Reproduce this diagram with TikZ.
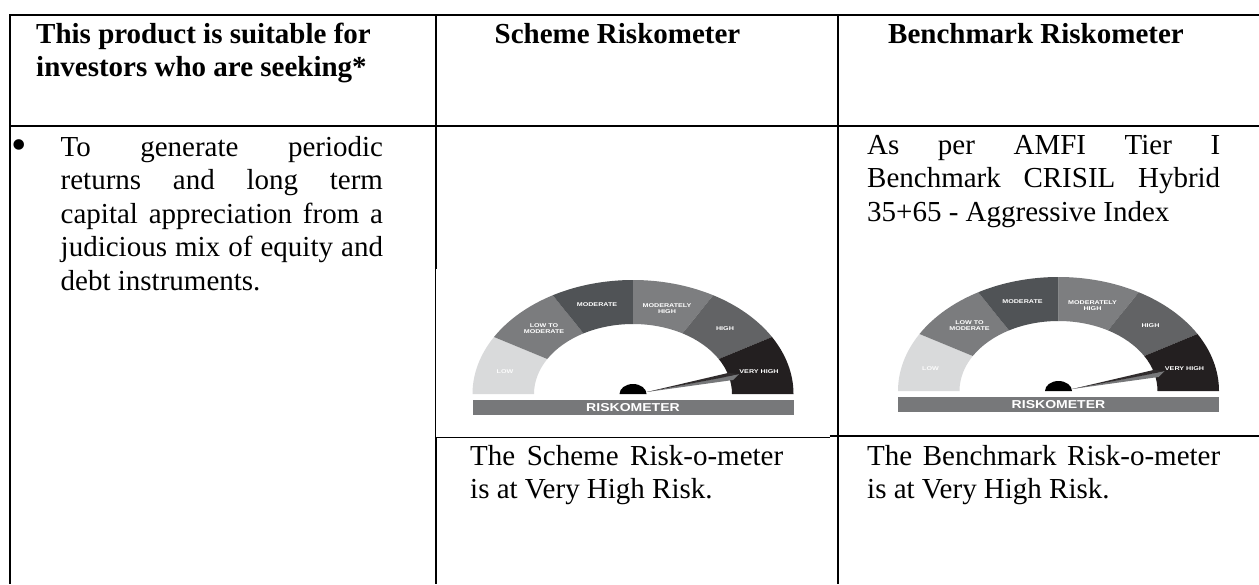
\documentclass[tikz,border=0pt]{standalone}
\usepackage{graphicx}
\usepackage{fontspec}
\setmainfont{Liberation Serif}
\newfontfamily\gaugefont{Liberation Sans}
\definecolor{gLow}{HTML}{D9DADB}
\definecolor{gLowMod}{HTML}{7B7C7E}
\definecolor{gMod}{HTML}{505356}
\definecolor{gModHigh}{HTML}{7D7E80}
\definecolor{gHigh}{HTML}{626365}
\definecolor{gVery}{HTML}{231F20}
\definecolor{gBar}{HTML}{77787A}
\hbadness=10000
\tikzset{
  rule/.style={line width=1.8pt,black},
  thinrule/.style={line width=1.2pt,black},
  cell/.style={anchor=north west,inner sep=0pt,align=justify,font=\fontsize{29}{33.5}\selectfont},
  head/.style={anchor=north west,inner sep=0pt,align=left,font=\bfseries\fontsize{29}{33.5}\selectfont},
  gl/.style={inner sep=0pt,align=center,font=\gaugefont\bfseries\fontsize{5.5}{7.5}\selectfont,text=white},
}
\newcommand{\tp}{\rule{0pt}{24pt}}
\newcommand{\gtext}[1]{\scalebox{1.3}[1]{\begin{tabular}{@{}c@{}}#1\end{tabular}}}
\newcommand{\gaugeseg}[3]{%
  \fill[#3] ({\gx+160.5*cos(#1)},{\gy-114*sin(#1)}) arc[start angle=-#1,end angle=-#2,x radius=160.5,y radius=114]
    -- ({\gx+99*cos(#2)},{\gy-70*sin(#2)}) arc[start angle=-#2,end angle=-#1,x radius=99,y radius=70] -- cycle;
}
\newcommand{\gauge}[3]{% cx, cy, prefix
  \def\gx{#1}\def\gy{#2}
  \gaugeseg{180}{150}{gLow}
  \gaugeseg{150}{120}{gLowMod}
  \gaugeseg{120}{90}{gMod}
  \gaugeseg{90}{60}{gModHigh}
  \gaugeseg{60}{30}{gHigh}
  \gaugeseg{30}{0}{gVery}
  \node[gl,text=white!92!gLow] (#3low) at (#1-128,#2-22) {\gtext{LOW}};
  \node[gl] (#3lm) at (#1-89,#2-65) {\gtext{LOW TO\\[-2pt]MODERATE}};
  \node[gl] (#3mod) at (#1-36,#2-89) {\gtext{MODERATE}};
  \node[gl] (#3mh) at (#1+34,#2-85) {\gtext{MODERATELY\\[-2pt]HIGH}};
  \node[gl] (#3h) at (#1+92,#2-65) {\gtext{HIGH}};
  \node[gl] (#3vh) at (#1+126,#2-22) {\gtext{VERY HIGH}};
  \fill[black] (#1-13.5,#2) arc[start angle=-180,end angle=0,x radius=13.5,y radius=10] -- cycle;
  \fill[gBar] (#1+13.7,#2-2) -- (#1+106,#2-20) -- (#1+100,#2-14) -- cycle;
  \fill[gVery!85!gBar] (#1+13.7,#2-2) -- (#1+95,#2-21) -- (#1+106,#2-20) -- (#1+90,#2-16.5) -- cycle;
  \fill[gBar] (#1-160.5,#2+6) rectangle (#1+160.5,#2+20.7);
  \node[inner sep=0pt,font=\gaugefont\bfseries\fontsize{11.5}{12}\selectfont,text=white] (#3bar) at (#1,#2+13.3) {\scalebox{1.22}[1]{RISKOMETER}};
}
\begin{document}
\begin{tikzpicture}[x=1pt,y=-1pt]
\useasboundingbox (0,0) rectangle (1259,584);
\fill[white] (0,0) rectangle (1259,584);
% gauges
\gauge{633}{394}{a}
\gauge{1058.5}{391}{b}
% grid
\draw[rule] (10,15) -- (1259,15);
\draw[rule] (10,126) -- (1259,126);
\draw[thinrule] (436,437.3) -- (829.5,437.3);
\draw[rule] (829.5,436) -- (1259,436);
\draw[rule] (10,14.1) -- (10,584);
\draw[rule] (436,14.1) -- (436,269);
\draw[thinrule] (435.6,269) -- (435.6,437);
\draw[rule] (436,437) -- (436,584);
\draw[rule] (837.6,14.1) -- (837.6,584);
% text
\node[head] (h1) at (36,19) {\tp This product is suitable for\\investors who are seeking*};
\node[head,anchor=north] (h2) at (617.5,19) {\tp Scheme Riskometer};
\node[head,anchor=north] (h3) at (1036,19) {\tp Benchmark Riskometer};
\node[inner sep=0pt,anchor=base west,font=\fontsize{44}{44}\selectfont] (bul) at (11.5,159) {•};
\node[cell,text width=322.3pt] (t1) at (60.5,132) {\tp To generate periodic\linebreak returns and long term\linebreak capital appreciation from a\linebreak judicious mix of equity and\linebreak debt instruments.};
\node[cell,text width=353pt] (t2) at (867,130) {\tp As per AMFI Tier I\linebreak Benchmark CRISIL Hybrid\linebreak 35+65 - Aggressive Index};
\node[cell,text width=313pt] (t3) at (470,441) {\tp The Scheme Risk-o-meter\linebreak is at Very High Risk.};
\node[cell,text width=353pt] (t4) at (867,441) {\tp The Benchmark Risk-o-meter\linebreak is at Very High Risk.};
\end{tikzpicture}
\end{document}
